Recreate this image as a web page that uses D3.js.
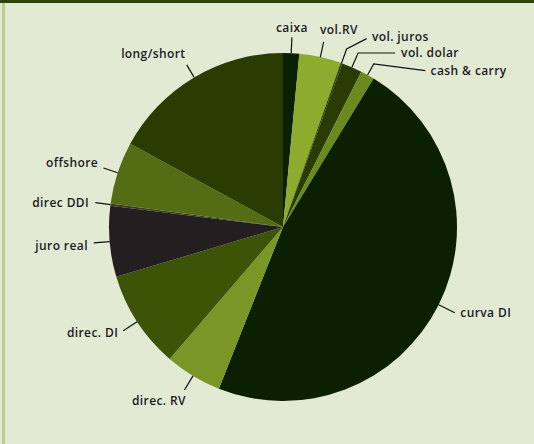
<!DOCTYPE html>
<html>
<head>
<meta charset="utf-8">
<script src="https://cdn.jsdelivr.net/npm/d3@7"></script>
<style>
  body { margin: 0; background: #e2ead4; }
  svg { display: block; }
  .lbl { font-family: "Open Sans", sans-serif; font-size: 12px; font-weight: 600; letter-spacing: 0.4px; fill: #1c1c1c; }
</style>
</head>
<body>
<svg width="534" height="444"></svg>
<script>
// slices, clockwise from 12 o'clock
var labels = ['caixa', 'vol.RV', 'vol. juros', 'vol. dolar', 'cash & carry', 'curva DI',
              'direc. RV', 'direc. DI', 'juro real', 'direc DDI', 'offshore', 'long/short'];
var shares = [1.5, 3.9, 0.15, 1.9, 1.3, 47.4, 5.3, 9.1, 6.6, 0.2, 5.8, 17.1];
var colors = ['#0b1f02', '#8dab2d', '#2e4208', '#2a3c04', '#6a8a1f', '#0a2000',
              '#7a9627', '#3d5306', '#231f21', '#3d3a1e', '#546c14', '#2b3c02'];

// label placement: radial tick length, optional second segment (relative to tick end),
// text offset from line end, text anchor
var labelLayout = {
    'caixa':        {len: 16, text: [0, -5.5], anchor: 'middle'},
    'vol.RV':       {len: 15.5, text: [15.3, -7.6], anchor: 'middle'},
    'vol. juros':   {len: 15, elbow: [20, -10.4], text: [5.3, 2], anchor: 'start'},
    'vol. dolar':   {len: 15.5, elbow: [37, 0], text: [6, 4.2], anchor: 'start'},
    'cash & carry': {len: 12.6, elbow: [51.6, 6.7], text: [5.3, 4.2], anchor: 'start'},
    'curva DI':     {len: 18, text: [5.5, 3.9], anchor: 'start'},
    'direc. RV':    {len: 16.5, text: [-25.5, 15], anchor: 'middle'},
    'direc. DI':    {len: 16.5, text: [-5, 6.6], anchor: 'end'},
    'juro real':    {len: 16, text: [-5.8, 7.2], anchor: 'end'},
    'direc DDI':    {len: 15.3, text: [-6.2, 4.2], anchor: 'end'},
    'offshore':     {len: 15, text: [-5.4, -0.8], anchor: 'end'},
    'long/short':   {len: 14.5, text: [-1.3, -7], anchor: 'end'}
};

var svg = d3.select('svg');
var svgWidth = +svg.attr('width');
var svgHeight = +svg.attr('height');

// frame
svg.append('rect').attr('width', svgWidth).attr('height', svgHeight).attr('fill', '#e2ead4');
svg.append('rect').attr('width', svgWidth).attr('height', 3).attr('fill', '#2f4405');
svg.append('rect').attr('x', 2).attr('y', 3).attr('width', 3).attr('height', svgHeight - 3).attr('fill', '#b7cf8b');

var cx = 283, cy = 227, radius = 174;

var data = labels.map(function(l, i) {
    return {name: l, value: shares[i], color: colors[i]};
});

var pie = d3.pie().sort(null).value(function(d) { return d.value; });
var arc = d3.arc().innerRadius(0).outerRadius(radius);

var chartG = svg.append('g')
    .attr('transform', 'translate(' + [cx, cy] + ')');

var arcs = pie(data);

chartG.selectAll('.slice')
    .data(arcs)
    .enter()
    .append('path')
    .attr('class', 'slice')
    .attr('d', arc)
    .attr('fill', function(d) { return d.data.color; });

// leader lines + labels
arcs.forEach(function(d) {
    var lay = labelLayout[d.data.name];
    var a = (d.startAngle + d.endAngle) / 2;
    var sx = Math.sin(a), sy = -Math.cos(a);
    var p0 = [radius * sx, radius * sy];
    var p1 = [(radius + lay.len) * sx, (radius + lay.len) * sy];
    var pts = [p0, p1];
    if (lay.elbow) pts.push([p1[0] + lay.elbow[0], p1[1] + lay.elbow[1]]);
    var end = pts[pts.length - 1];

    chartG.append('path')
        .attr('d', d3.line()(pts))
        .attr('fill', 'none')
        .attr('stroke', '#111')
        .attr('stroke-width', 1.2);

    chartG.append('text')
        .attr('class', 'lbl')
        .attr('x', end[0] + lay.text[0])
        .attr('y', end[1] + lay.text[1])
        .attr('text-anchor', lay.anchor)
        .text(d.data.name);
});
</script>
</body>
</html>
